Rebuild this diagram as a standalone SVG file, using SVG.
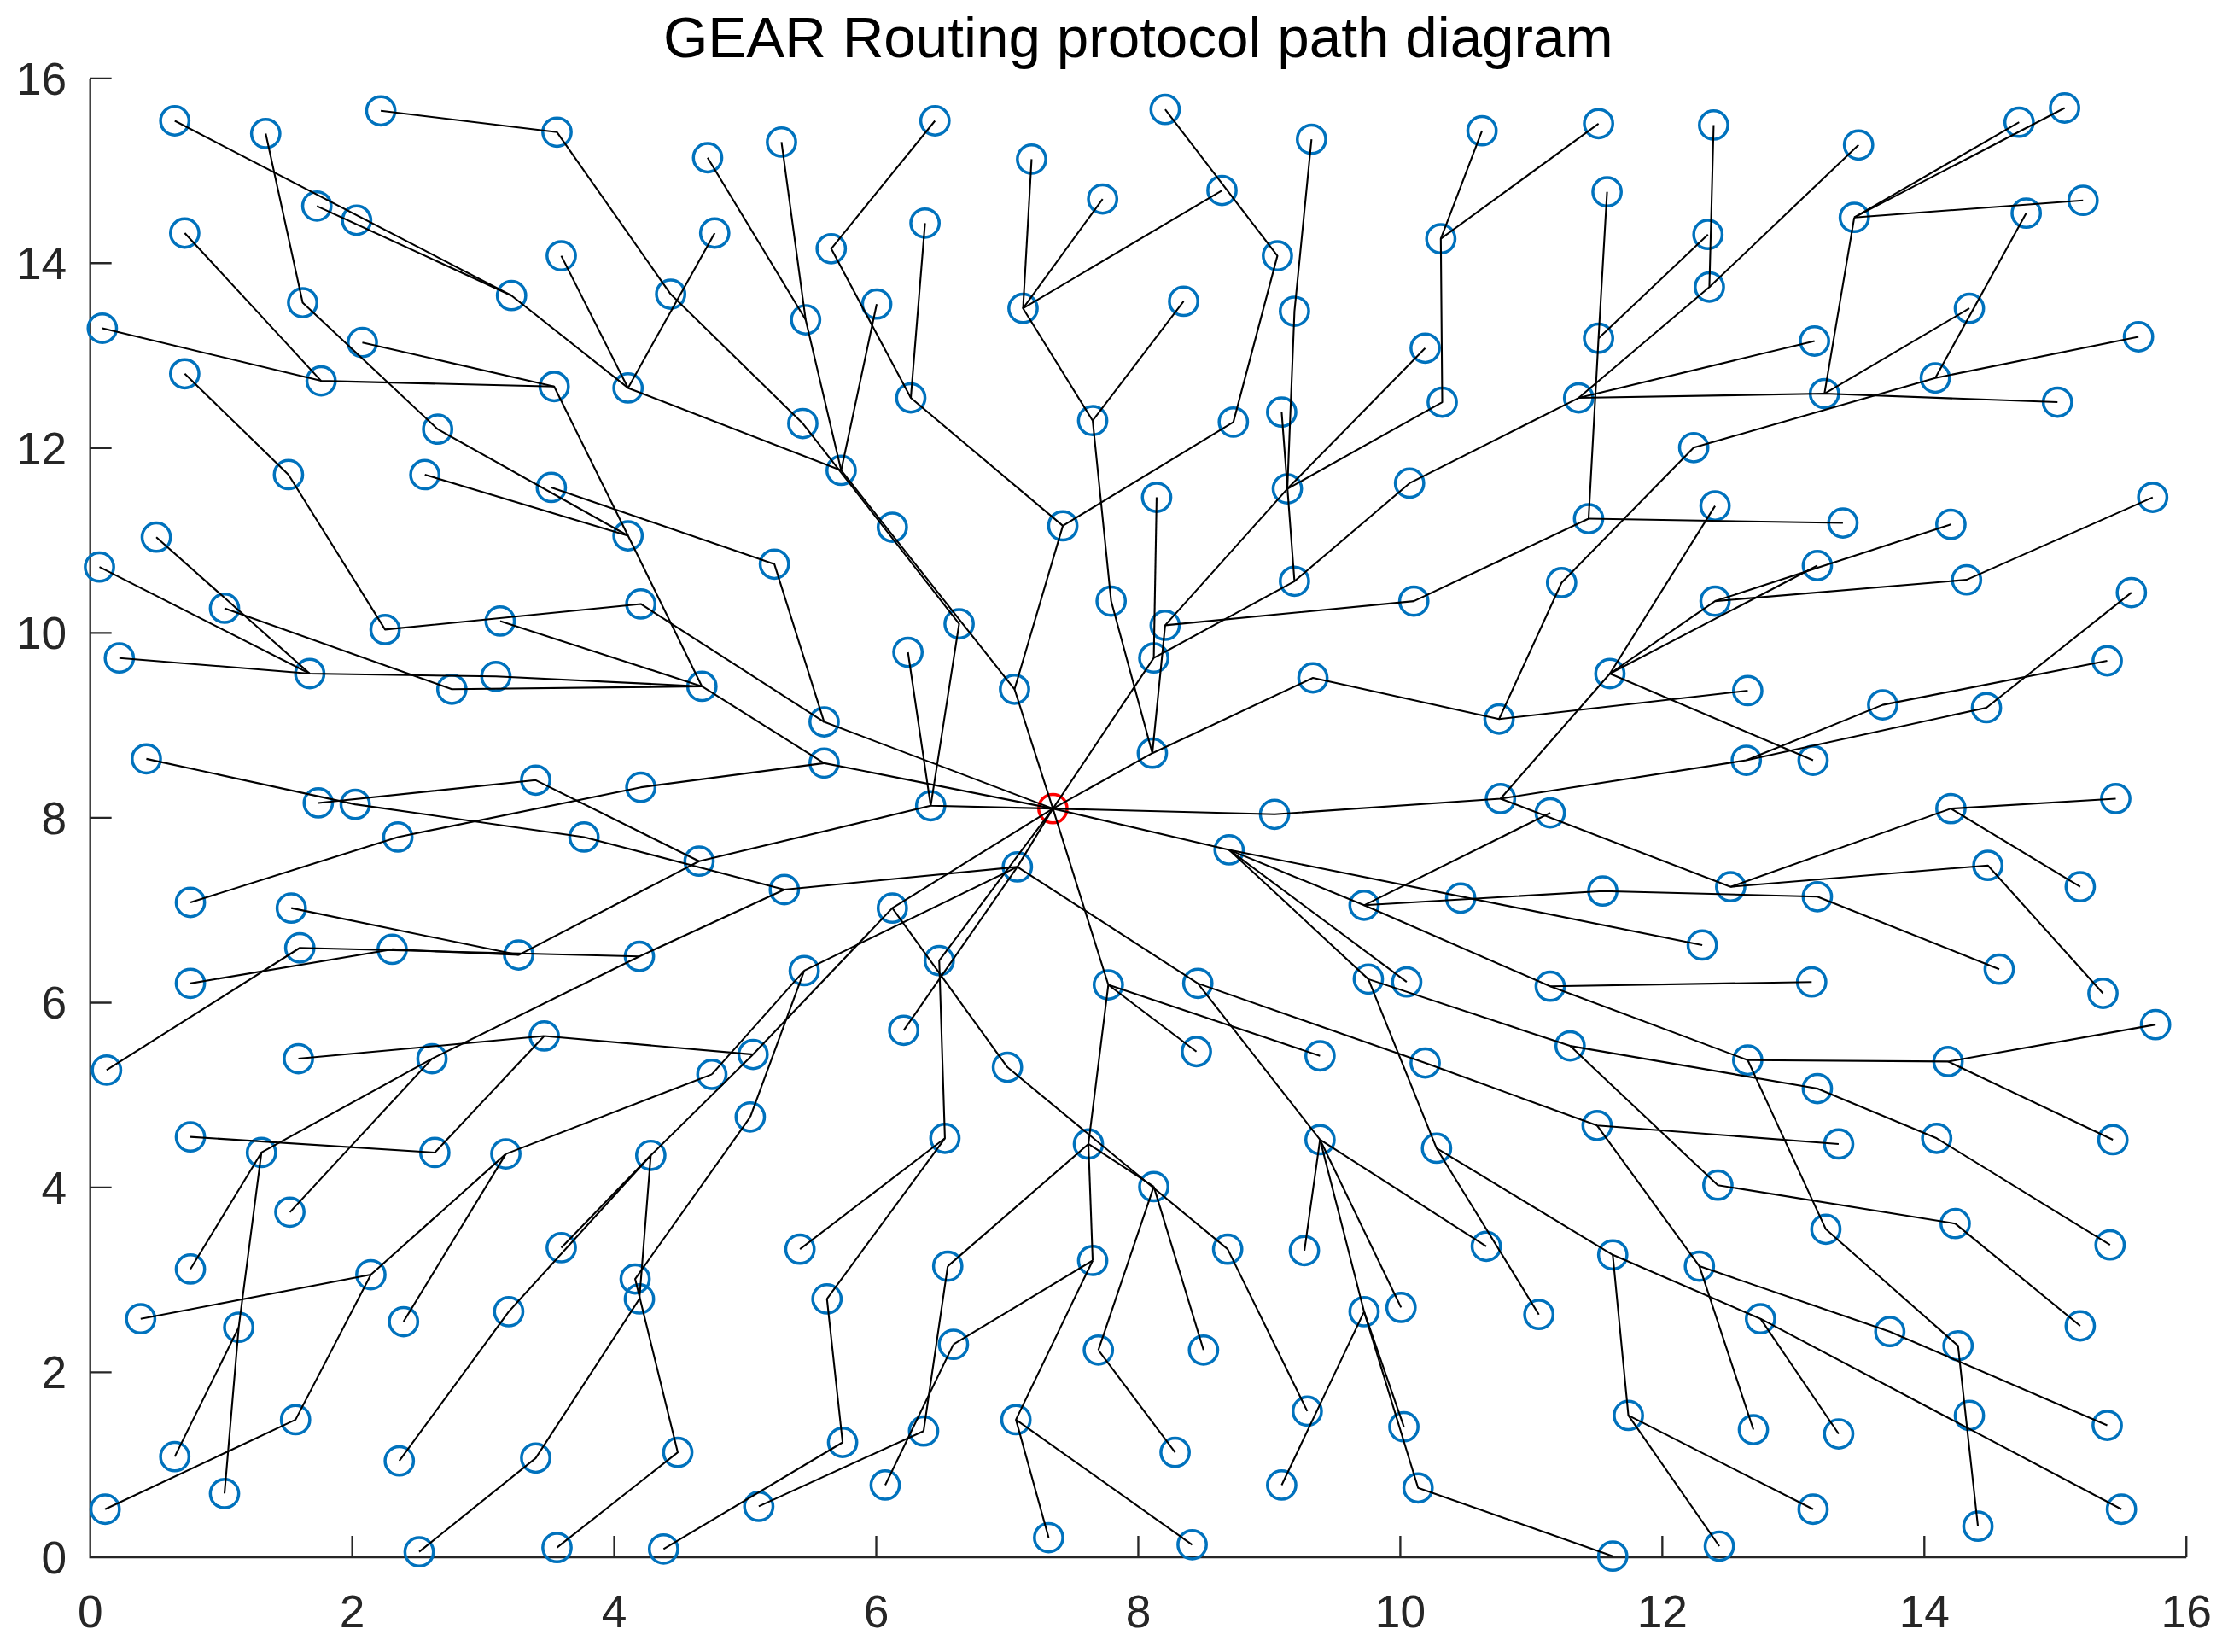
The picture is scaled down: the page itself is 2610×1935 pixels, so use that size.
<svg xmlns="http://www.w3.org/2000/svg" xmlns:xlink="http://www.w3.org/1999/xlink" width="2610" height="1935" viewBox="0 0 2610 1935">
<style>
.ax{stroke:#262626;stroke-width:1.4;fill:none}
.tk{font-family:"Liberation Sans",Arial,sans-serif;font-size:32px;fill:#262626}
.tt{font-family:"Liberation Sans",Arial,sans-serif;font-size:40.5px;fill:#000}
.nd{fill:none;stroke:#0072BD;stroke-width:2.1}
.sk{fill:none;stroke:#FF0000;stroke-width:2.1}
.e path{fill:none;stroke:#000;stroke-width:1.25;stroke-linejoin:round}
</style>
<defs><circle id="c" r="10" class="nd"/></defs>
<rect width="2610" height="1935" fill="#fff"/>
<g transform="scale(1.664541)">
<g id="axes">
<path class="ax" d="M63.5 55.2V1095.8H1538.7"/>
<path class="ax" d="M63.5 55.2h15M63.5 185.2h15M63.5 315.3h15M63.5 445.4h15M63.5 575.5h15M63.5 705.6h15M63.5 835.6h15M63.5 965.7h15M247.9 1095.8v-15M432.3 1095.8v-15M616.7 1095.8v-15M801.1 1095.8v-15M985.5 1095.8v-15M1169.9 1095.8v-15M1354.3 1095.8v-15M1538.7 1095.8v-15"/>
<g class="tk" text-anchor="end">
<text x="47" y="66.5">16</text><text x="47" y="196.5">14</text><text x="47" y="326.6">12</text><text x="47" y="456.7">10</text><text x="47" y="586.8">8</text><text x="47" y="716.9">6</text><text x="47" y="846.9">4</text><text x="47" y="977">2</text><text x="47" y="1107">0</text>
</g>
<g class="tk" text-anchor="middle">
<text x="63.5" y="1145">0</text><text x="247.9" y="1145">2</text><text x="432.3" y="1145">4</text><text x="616.7" y="1145">6</text><text x="801.1" y="1145">8</text><text x="985.5" y="1145">10</text><text x="1169.9" y="1145">12</text><text x="1354.3" y="1145">14</text><text x="1538.7" y="1145">16</text>
</g>
<text class="tt" x="801" y="40" text-anchor="middle">GEAR Routing protocol path diagram</text>
</g>
<g id="nodes">
<g id="n1"><use href="#c" x="123" y="85"/></g>
<g id="n2"><use href="#c" x="187" y="94"/></g>
<g id="n3"><use href="#c" x="268" y="78"/></g>
<g id="n4"><use href="#c" x="392" y="93"/></g>
<g id="n5"><use href="#c" x="223" y="145"/></g>
<g id="n6"><use href="#c" x="251" y="155"/></g>
<g id="n7"><use href="#c" x="130" y="164"/></g>
<g id="n8"><use href="#c" x="395" y="180"/></g>
<g id="n9"><use href="#c" x="360" y="208"/></g>
<g id="n10"><use href="#c" x="213" y="213"/></g>
<g id="n11"><use href="#c" x="72" y="231"/></g>
<g id="n12"><use href="#c" x="255" y="241"/></g>
<g id="n13"><use href="#c" x="442" y="273"/></g>
<g id="n14"><use href="#c" x="226" y="268"/></g>
<g id="n15"><use href="#c" x="130" y="263"/></g>
<g id="n16"><use href="#c" x="390" y="272"/></g>
<g id="n17"><use href="#c" x="308" y="302"/></g>
<g id="n18"><use href="#c" x="203" y="334"/></g>
<g id="n19"><use href="#c" x="299" y="334"/></g>
<g id="n20"><use href="#c" x="388" y="343"/></g>
<g id="n21"><use href="#c" x="442" y="377"/></g>
<g id="n22"><use href="#c" x="110" y="378"/></g>
<g id="n23"><use href="#c" x="70" y="399"/></g>
<g id="n24"><use href="#c" x="498" y="111"/></g>
<g id="n25"><use href="#c" x="550" y="100"/></g>
<g id="n26"><use href="#c" x="658" y="85"/></g>
<g id="n27"><use href="#c" x="503" y="164"/></g>
<g id="n28"><use href="#c" x="472" y="207"/></g>
<g id="n29"><use href="#c" x="585" y="175"/></g>
<g id="n30"><use href="#c" x="651" y="157"/></g>
<g id="n31"><use href="#c" x="617" y="214"/></g>
<g id="n32"><use href="#c" x="567" y="225"/></g>
<g id="n33"><use href="#c" x="726" y="112"/></g>
<g id="n34"><use href="#c" x="776" y="140"/></g>
<g id="n35"><use href="#c" x="720" y="217"/></g>
<g id="n36"><use href="#c" x="565" y="298"/></g>
<g id="n37"><use href="#c" x="641" y="280"/></g>
<g id="n38"><use href="#c" x="769" y="296"/></g>
<g id="n39"><use href="#c" x="592" y="331"/></g>
<g id="n40"><use href="#c" x="628" y="371"/></g>
<g id="n41"><use href="#c" x="748" y="370"/></g>
<g id="n42"><use href="#c" x="545" y="397"/></g>
<g id="n43"><use href="#c" x="820" y="77"/></g>
<g id="n44"><use href="#c" x="923" y="98"/></g>
<g id="n45"><use href="#c" x="1043" y="92"/></g>
<g id="n46"><use href="#c" x="1125" y="87"/></g>
<g id="n47"><use href="#c" x="860" y="134"/></g>
<g id="n48"><use href="#c" x="899" y="180"/></g>
<g id="n49"><use href="#c" x="1014" y="168"/></g>
<g id="n50"><use href="#c" x="1131" y="135"/></g>
<g id="n51"><use href="#c" x="833" y="212"/></g>
<g id="n52"><use href="#c" x="911" y="219"/></g>
<g id="n53"><use href="#c" x="1003" y="245"/></g>
<g id="n54"><use href="#c" x="1125" y="238"/></g>
<g id="n55"><use href="#c" x="868" y="297"/></g>
<g id="n56"><use href="#c" x="902" y="290"/></g>
<g id="n57"><use href="#c" x="1015" y="283"/></g>
<g id="n58"><use href="#c" x="1111" y="280"/></g>
<g id="n59"><use href="#c" x="906" y="344"/></g>
<g id="n60"><use href="#c" x="992" y="340"/></g>
<g id="n61"><use href="#c" x="814" y="350"/></g>
<g id="n62"><use href="#c" x="1118" y="365"/></g>
<g id="n63"><use href="#c" x="1206" y="88"/></g>
<g id="n64"><use href="#c" x="1308" y="102"/></g>
<g id="n65"><use href="#c" x="1202" y="165"/></g>
<g id="n66"><use href="#c" x="1203" y="202"/></g>
<g id="n67"><use href="#c" x="1421" y="86"/></g>
<g id="n68"><use href="#c" x="1453" y="76"/></g>
<g id="n69"><use href="#c" x="1305" y="153"/></g>
<g id="n70"><use href="#c" x="1426" y="150"/></g>
<g id="n71"><use href="#c" x="1466" y="141"/></g>
<g id="n72"><use href="#c" x="1386" y="217"/></g>
<g id="n73"><use href="#c" x="1277" y="240"/></g>
<g id="n74"><use href="#c" x="1284" y="277"/></g>
<g id="n75"><use href="#c" x="1362" y="266"/></g>
<g id="n76"><use href="#c" x="1505" y="237"/></g>
<g id="n77"><use href="#c" x="1448" y="283"/></g>
<g id="n78"><use href="#c" x="1192" y="315"/></g>
<g id="n79"><use href="#c" x="1207" y="356"/></g>
<g id="n80"><use href="#c" x="1297" y="368"/></g>
<g id="n81"><use href="#c" x="1373" y="369"/></g>
<g id="n82"><use href="#c" x="1515" y="350"/></g>
<g id="n83"><use href="#c" x="1279" y="398"/></g>
<g id="n84"><use href="#c" x="1384" y="408"/></g>
<g id="n85"><use href="#c" x="1207" y="423"/></g>
<g id="n86"><use href="#c" x="1500" y="417"/></g>
<g id="n87"><use href="#c" x="1133" y="474"/></g>
<g id="n88"><use href="#c" x="1230" y="486"/></g>
<g id="n89"><use href="#c" x="1483" y="465"/></g>
<g id="n90"><use href="#c" x="1325" y="496"/></g>
<g id="n91"><use href="#c" x="1398" y="498"/></g>
<g id="n92"><use href="#c" x="1229" y="535"/></g>
<g id="n93"><use href="#c" x="1276" y="535"/></g>
<g id="n94"><use href="#c" x="1373" y="569"/></g>
<g id="n95"><use href="#c" x="1489" y="562"/></g>
<g id="n96"><use href="#c" x="1218" y="624"/></g>
<g id="n97"><use href="#c" x="1279" y="631"/></g>
<g id="n98"><use href="#c" x="1399" y="609"/></g>
<g id="n99"><use href="#c" x="1464" y="624"/></g>
<g id="n100"><use href="#c" x="1198" y="665"/></g>
<g id="n101"><use href="#c" x="1407" y="682"/></g>
<g id="n102"><use href="#c" x="1275" y="691"/></g>
<g id="n103"><use href="#c" x="1480" y="699"/></g>
<g id="n104"><use href="#c" x="1517" y="721"/></g>
<g id="n105"><use href="#c" x="1230" y="746"/></g>
<g id="n106"><use href="#c" x="1371" y="747"/></g>
<g id="n107"><use href="#c" x="1279" y="766"/></g>
<g id="n108"><use href="#c" x="782" y="423"/></g>
<g id="n109"><use href="#c" x="820" y="440"/></g>
<g id="n110"><use href="#c" x="812" y="463"/></g>
<g id="n111"><use href="#c" x="911" y="409"/></g>
<g id="n112"><use href="#c" x="995" y="423"/></g>
<g id="n113"><use href="#c" x="1099" y="410"/></g>
<g id="n114"><use href="#c" x="924" y="477"/></g>
<g id="n115"><use href="#c" x="1055" y="506"/></g>
<g id="n116"><use href="#c" x="811" y="530"/></g>
<g id="n117"><use href="#c" x="897" y="573"/></g>
<g id="n118"><use href="#c" x="1056" y="562"/></g>
<g id="n119"><use href="#c" x="1091" y="572"/></g>
<g id="n120"><use href="#c" x="865" y="598"/></g>
<g id="n121"><use href="#c" x="960" y="637"/></g>
<g id="n122"><use href="#c" x="1028" y="632"/></g>
<g id="n123"><use href="#c" x="1128" y="627"/></g>
<g id="n124"><use href="#c" x="843" y="692"/></g>
<g id="n125"><use href="#c" x="963" y="689"/></g>
<g id="n126"><use href="#c" x="990" y="691"/></g>
<g id="n127"><use href="#c" x="1091" y="694"/></g>
<g id="n128"><use href="#c" x="780" y="693"/></g>
<g id="n129"><use href="#c" x="842" y="740"/></g>
<g id="n130"><use href="#c" x="929" y="743"/></g>
<g id="n131"><use href="#c" x="1105" y="736"/></g>
<g id="n132"><use href="#c" x="1003" y="748"/></g>
<g id="n133"><use href="#c" x="451" y="425"/></g>
<g id="n134"><use href="#c" x="494" y="483"/></g>
<g id="n135"><use href="#c" x="580" y="508"/></g>
<g id="n136"><use href="#c" x="580" y="537"/></g>
<g id="n137"><use href="#c" x="639" y="459"/></g>
<g id="n138"><use href="#c" x="675" y="439"/></g>
<g id="n139"><use href="#c" x="714" y="485"/></g>
<g id="n142"><use href="#c" x="451" y="554"/></g>
<g id="n145"><use href="#c" x="492" y="606"/></g>
<g id="n146"><use href="#c" x="552" y="626"/></g>
<g id="n147"><use href="#c" x="716" y="610"/></g>
<g id="n148"><use href="#c" x="628" y="639"/></g>
<g id="n149"><use href="#c" x="450" y="673"/></g>
<g id="n150"><use href="#c" x="566" y="683"/></g>
<g id="n151"><use href="#c" x="661" y="676"/></g>
<g id="n152"><use href="#c" x="636" y="725"/></g>
<g id="n153"><use href="#c" x="530" y="742"/></g>
<g id="n154"><use href="#c" x="501" y="756"/></g>
<g id="n155"><use href="#c" x="709" y="751"/></g>
<g id="n156"><use href="#c" x="655" y="567"/></g>
<g id="n157"><use href="#c" x="158" y="428"/></g>
<g id="n158"><use href="#c" x="84" y="463"/></g>
<g id="n159"><use href="#c" x="218" y="474"/></g>
<g id="n160"><use href="#c" x="271" y="443"/></g>
<g id="n161"><use href="#c" x="352" y="437"/></g>
<g id="n162"><use href="#c" x="318" y="485"/></g>
<g id="n163"><use href="#c" x="349" y="476"/></g>
<g id="n164"><use href="#c" x="103" y="534"/></g>
<g id="n165"><use href="#c" x="224" y="565"/></g>
<g id="n166"><use href="#c" x="250" y="566"/></g>
<g id="n167"><use href="#c" x="377" y="549"/></g>
<g id="n168"><use href="#c" x="280" y="589"/></g>
<g id="n169"><use href="#c" x="411" y="589"/></g>
<g id="n170"><use href="#c" x="134" y="635"/></g>
<g id="n171"><use href="#c" x="205" y="639"/></g>
<g id="n172"><use href="#c" x="211" y="667"/></g>
<g id="n173"><use href="#c" x="276" y="668"/></g>
<g id="n174"><use href="#c" x="365" y="672"/></g>
<g id="n175"><use href="#c" x="134" y="692"/></g>
<g id="n176"><use href="#c" x="75" y="753"/></g>
<g id="n177"><use href="#c" x="210" y="745"/></g>
<g id="n178"><use href="#c" x="304" y="745"/></g>
<g id="n179"><use href="#c" x="383" y="729"/></g>
<g id="n180"><use href="#c" x="134" y="800"/></g>
<g id="n181"><use href="#c" x="184" y="811"/></g>
<g id="n182"><use href="#c" x="306" y="811"/></g>
<g id="n183"><use href="#c" x="356" y="812"/></g>
<g id="n184"><use href="#c" x="204" y="853"/></g>
<g id="n185"><use href="#c" x="134" y="893"/></g>
<g id="n186"><use href="#c" x="261" y="897"/></g>
<g id="n187"><use href="#c" x="99" y="928"/></g>
<g id="n188"><use href="#c" x="168" y="934"/></g>
<g id="n189"><use href="#c" x="284" y="930"/></g>
<g id="n190"><use href="#c" x="395" y="878"/></g>
<g id="n191"><use href="#c" x="358" y="923"/></g>
<g id="n192"><use href="#c" x="208" y="999"/></g>
<g id="n193"><use href="#c" x="123" y="1025"/></g>
<g id="n194"><use href="#c" x="158" y="1051"/></g>
<g id="n195"><use href="#c" x="74" y="1062"/></g>
<g id="n196"><use href="#c" x="281" y="1028"/></g>
<g id="n197"><use href="#c" x="377" y="1026"/></g>
<g id="n198"><use href="#c" x="295" y="1092"/></g>
<g id="n199"><use href="#c" x="392" y="1089"/></g>
<g id="n200"><use href="#c" x="528" y="786"/></g>
<g id="n201"><use href="#c" x="458" y="813"/></g>
<g id="n202"><use href="#c" x="665" y="801"/></g>
<g id="n203"><use href="#c" x="766" y="805"/></g>
<g id="n204"><use href="#c" x="812" y="835"/></g>
<g id="n205"><use href="#c" x="563" y="879"/></g>
<g id="n206"><use href="#c" x="667" y="891"/></g>
<g id="n207"><use href="#c" x="769" y="887"/></g>
<g id="n208"><use href="#c" x="447" y="900"/></g>
<g id="n209"><use href="#c" x="450" y="914"/></g>
<g id="n210"><use href="#c" x="582" y="914"/></g>
<g id="n211"><use href="#c" x="671" y="946"/></g>
<g id="n212"><use href="#c" x="773" y="950"/></g>
<g id="n213"><use href="#c" x="477" y="1022"/></g>
<g id="n214"><use href="#c" x="593" y="1015"/></g>
<g id="n215"><use href="#c" x="650" y="1007"/></g>
<g id="n216"><use href="#c" x="715" y="999"/></g>
<g id="n217"><use href="#c" x="623" y="1045"/></g>
<g id="n218"><use href="#c" x="534" y="1060"/></g>
<g id="n219"><use href="#c" x="467" y="1090"/></g>
<g id="n220"><use href="#c" x="738" y="1082"/></g>
<g id="n221"><use href="#c" x="929" y="802"/></g>
<g id="n222"><use href="#c" x="1011" y="808"/></g>
<g id="n223"><use href="#c" x="1124" y="792"/></g>
<g id="n224"><use href="#c" x="864" y="879"/></g>
<g id="n225"><use href="#c" x="918" y="880"/></g>
<g id="n226"><use href="#c" x="1046" y="877"/></g>
<g id="n227"><use href="#c" x="1135" y="883"/></g>
<g id="n228"><use href="#c" x="960" y="923"/></g>
<g id="n229"><use href="#c" x="986" y="920"/></g>
<g id="n230"><use href="#c" x="1083" y="925"/></g>
<g id="n231"><use href="#c" x="847" y="950"/></g>
<g id="n232"><use href="#c" x="920" y="993"/></g>
<g id="n233"><use href="#c" x="827" y="1022"/></g>
<g id="n234"><use href="#c" x="988" y="1004"/></g>
<g id="n235"><use href="#c" x="902" y="1045"/></g>
<g id="n236"><use href="#c" x="998" y="1047"/></g>
<g id="n237"><use href="#c" x="1146" y="996"/></g>
<g id="n238"><use href="#c" x="839" y="1087"/></g>
<g id="n239"><use href="#c" x="1135" y="1095"/></g>
<g id="n240"><use href="#c" x="1294" y="805"/></g>
<g id="n241"><use href="#c" x="1363" y="801"/></g>
<g id="n242"><use href="#c" x="1487" y="802"/></g>
<g id="n243"><use href="#c" x="1209" y="834"/></g>
<g id="n244"><use href="#c" x="1485" y="876"/></g>
<g id="n245"><use href="#c" x="1285" y="865"/></g>
<g id="n246"><use href="#c" x="1376" y="861"/></g>
<g id="n247"><use href="#c" x="1196" y="891"/></g>
<g id="n248"><use href="#c" x="1239" y="928"/></g>
<g id="n249"><use href="#c" x="1330" y="937"/></g>
<g id="n250"><use href="#c" x="1464" y="933"/></g>
<g id="n251"><use href="#c" x="1378" y="947"/></g>
<g id="n252"><use href="#c" x="1234" y="1006"/></g>
<g id="n253"><use href="#c" x="1294" y="1009"/></g>
<g id="n254"><use href="#c" x="1386" y="996"/></g>
<g id="n255"><use href="#c" x="1483" y="1003"/></g>
<g id="n256"><use href="#c" x="1276" y="1062"/></g>
<g id="n257"><use href="#c" x="1493" y="1062"/></g>
<g id="n258"><use href="#c" x="1392" y="1074"/></g>
<g id="n259"><use href="#c" x="1210" y="1088"/></g>
<g id="sink"><circle cx="741" cy="569" r="10" class="sk"/></g>
</g>
<g id="connectors" class="e">
<path d="M123 85L360 208L442 273L592 331L714 485L741 569"/>
<path d="M223 145L360 208"/>
<path d="M395 180L442 273"/>
<path d="M503 164L442 273"/>
<path d="M498 111L567 225L592 331"/>
<path d="M550 100L567 225"/>
<path d="M617 214L592 331"/>
<path d="M268 78L392 93L472 207L565 298L675 439L655 567L741 569"/>
<path d="M658 85L585 175L641 280L748 370L714 485"/>
<path d="M651 157L641 280"/>
<path d="M820 77L899 180L868 297L748 370"/>
<path d="M639 459L655 567"/>
<path d="M187 94L213 213L308 302L442 377L494 483L580 537L741 569"/>
<path d="M130 164L226 268L390 272L442 377"/>
<path d="M72 231L226 268"/>
<path d="M255 241L390 272"/>
<path d="M299 334L442 377"/>
<path d="M388 343L545 397L580 508L741 569"/>
<path d="M130 263L203 334L271 443L451 425L580 508"/>
<path d="M352 437L494 483"/>
<path d="M158 428L318 485L494 483"/>
<path d="M84 463L218 474L349 476L494 483"/>
<path d="M110 378L218 474"/>
<path d="M70 399L218 474"/>
<path d="M860 134L720 217L769 296L782 423L811 530L741 569"/>
<path d="M726 112L720 217"/>
<path d="M776 140L720 217"/>
<path d="M833 212L769 296"/>
<path d="M923 98L911 219L906 344L820 440L811 530"/>
<path d="M1043 92L1014 168L1015 283L906 344"/>
<path d="M1125 87L1014 168"/>
<path d="M1003 245L906 344"/>
<path d="M902 290L911 409L812 463L741 569"/>
<path d="M814 350L812 463"/>
<path d="M1206 88L1203 202L1111 280L992 340L911 409"/>
<path d="M1308 102L1203 202"/>
<path d="M1277 240L1111 280"/>
<path d="M1448 283L1284 277L1111 280"/>
<path d="M1305 153L1284 277"/>
<path d="M1386 217L1284 277"/>
<path d="M1421 86L1305 153"/>
<path d="M1453 76L1305 153"/>
<path d="M1466 141L1305 153"/>
<path d="M1131 135L1125 238L1118 365L995 423L820 440"/>
<path d="M1202 165L1125 238"/>
<path d="M1297 368L1118 365"/>
<path d="M1505 237L1362 266L1192 315L1099 410L1055 506L924 477L811 530"/>
<path d="M1426 150L1362 266"/>
<path d="M1230 486L1055 506"/>
<path d="M1515 350L1384 408L1207 423L1133 474L1056 562L897 573L741 569"/>
<path d="M1373 369L1207 423"/>
<path d="M1207 356L1133 474"/>
<path d="M1279 398L1133 474"/>
<path d="M1276 535L1133 474"/>
<path d="M1500 417L1398 498L1229 535L1056 562"/>
<path d="M1483 465L1325 496L1229 535"/>
<path d="M1464 624L1373 569L1218 624L1056 562"/>
<path d="M1489 562L1373 569"/>
<path d="M1480 699L1399 609L1218 624"/>
<path d="M1407 682L1279 631L1128 627L960 637L865 598L741 569"/>
<path d="M1091 572L960 637"/>
<path d="M1198 665L865 598"/>
<path d="M1517 721L1371 747L1230 746L1091 694L960 637"/>
<path d="M1487 802L1371 747"/>
<path d="M1275 691L1091 694"/>
<path d="M1392 1074L1378 947L1285 865L1230 746"/>
<path d="M1485 876L1363 801L1279 766L1105 736L963 689L865 598"/>
<path d="M1464 933L1376 861L1209 834L1105 736"/>
<path d="M990 691L865 598"/>
<path d="M1083 925L1011 808L963 689"/>
<path d="M1493 1062L1239 928L1135 883L1011 808"/>
<path d="M1294 1009L1239 928"/>
<path d="M1276 1062L1146 996L1135 883"/>
<path d="M1210 1088L1146 996"/>
<path d="M1294 805L1124 792L1003 748L843 692L716 610L741 569"/>
<path d="M1234 1006L1196 891L1124 792"/>
<path d="M1483 1003L1330 937L1196 891"/>
<path d="M918 880L929 802L843 692"/>
<path d="M902 1045L960 923L929 802"/>
<path d="M988 1004L960 923"/>
<path d="M1135 1095L998 1047L960 923"/>
<path d="M986 920L929 802"/>
<path d="M1046 877L929 802"/>
<path d="M842 740L780 693L741 569"/>
<path d="M929 743L780 693"/>
<path d="M667 891L766 805L780 693"/>
<path d="M769 887L766 805"/>
<path d="M812 835L766 805"/>
<path d="M773 950L812 835"/>
<path d="M847 950L812 835"/>
<path d="M671 946L769 887"/>
<path d="M623 1045L671 946"/>
<path d="M738 1082L715 999L769 887"/>
<path d="M839 1087L715 999"/>
<path d="M827 1022L773 950"/>
<path d="M920 993L864 879L709 751L628 639L741 569"/>
<path d="M650 1007L667 891"/>
<path d="M534 1060L650 1007"/>
<path d="M563 879L665 801L661 676L741 569"/>
<path d="M582 914L665 801"/>
<path d="M593 1015L582 914"/>
<path d="M467 1090L593 1015"/>
<path d="M636 725L716 610"/>
<path d="M566 683L716 610"/>
<path d="M552 626L716 610"/>
<path d="M501 756L566 683"/>
<path d="M528 786L566 683"/>
<path d="M530 742L628 639"/>
<path d="M458 813L530 742"/>
<path d="M383 729L530 742"/>
<path d="M210 745L383 729"/>
<path d="M306 811L383 729"/>
<path d="M134 800L306 811"/>
<path d="M356 812L501 756"/>
<path d="M99 928L261 897L356 812"/>
<path d="M284 930L356 812"/>
<path d="M74 1062L208 999L261 897"/>
<path d="M281 1028L358 923L458 813"/>
<path d="M395 878L458 813"/>
<path d="M295 1092L377 1026L450 914L458 813"/>
<path d="M392 1089L477 1022L447 900L528 786"/>
<path d="M158 1051L168 934L184 811L304 745L450 673L552 626"/>
<path d="M123 1025L168 934"/>
<path d="M134 893L184 811"/>
<path d="M204 853L304 745"/>
<path d="M75 753L211 667L450 673"/>
<path d="M134 692L276 668L365 672L492 606L655 567"/>
<path d="M205 639L365 672"/>
<path d="M224 565L377 549L492 606"/>
<path d="M103 534L250 566L411 589L552 626"/>
<path d="M134 635L280 589L451 554L580 537"/>
</g>
</g>
</svg>
